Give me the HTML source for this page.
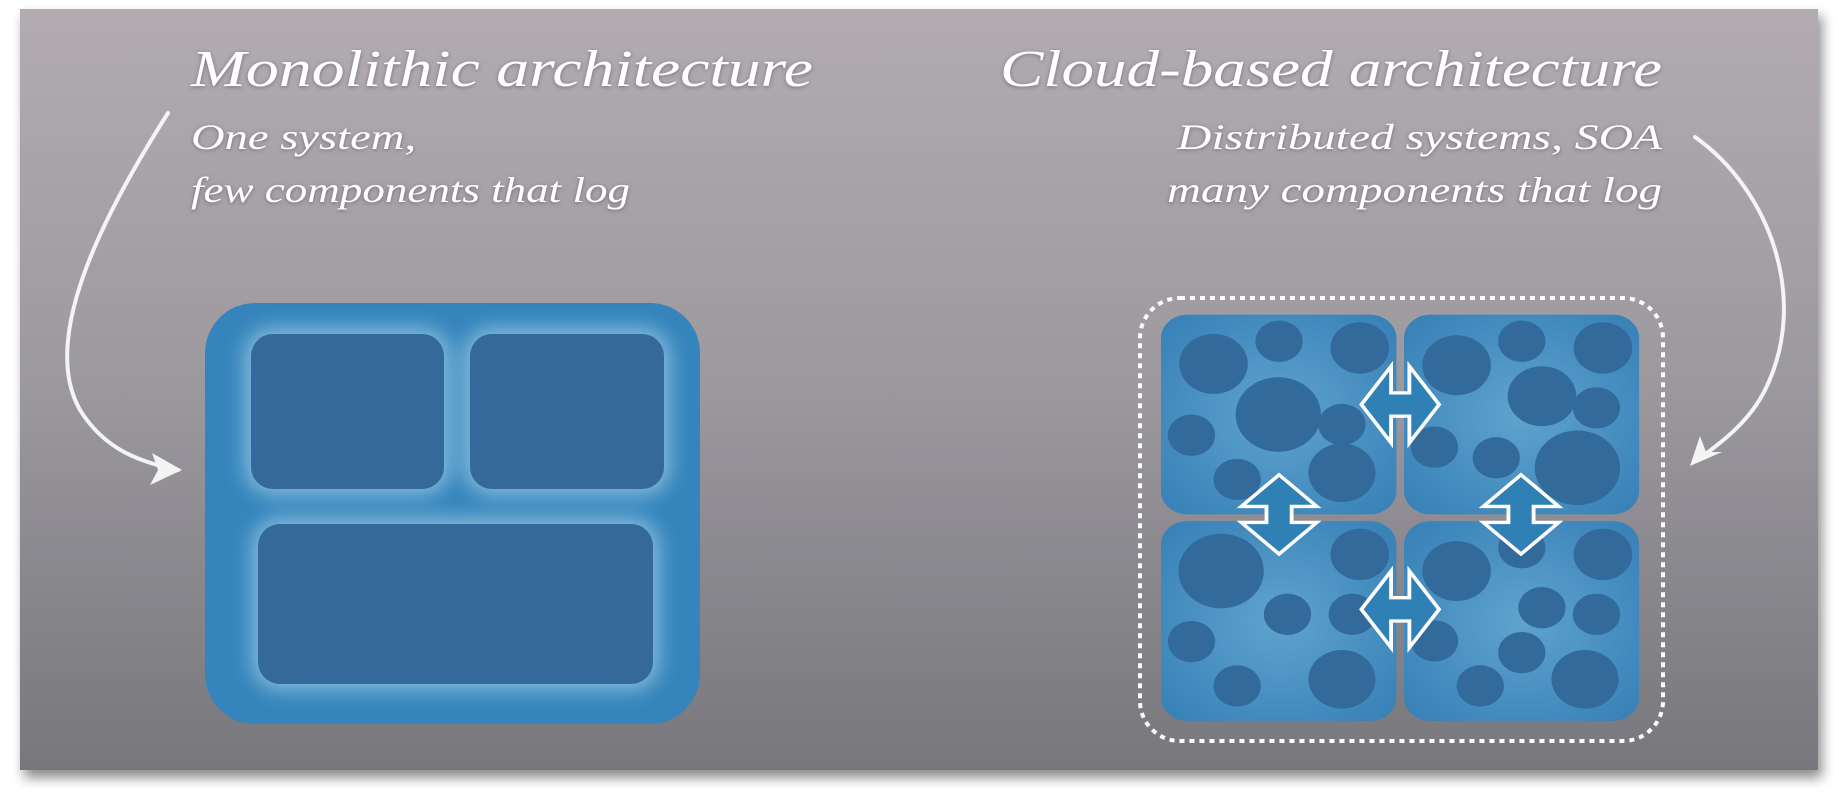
<!DOCTYPE html>
<html><head><meta charset="utf-8"><style>
html,body{margin:0;padding:0;background:#fff;width:1839px;height:801px;overflow:hidden}
svg{display:block}
text{font-family:"Liberation Serif",serif;font-style:italic;fill:#fff}
</style></head><body>
<svg width="1839" height="801" viewBox="0 0 1839 801" xmlns="http://www.w3.org/2000/svg">
<defs>
<linearGradient id="bg" x1="0" y1="0" x2="0" y2="1">
<stop offset="0" stop-color="#b2acb2"/><stop offset="0.5" stop-color="#9b989e"/><stop offset="1" stop-color="#77777c"/>
</linearGradient>
<filter id="sh" x="-5%" y="-5%" width="110%" height="115%"><feGaussianBlur stdDeviation="6"/></filter>
<filter id="bl" x="-20%" y="-20%" width="140%" height="140%"><feGaussianBlur stdDeviation="10"/></filter>
<filter id="ts"><feDropShadow dx="0" dy="1" stdDeviation="2" flood-color="#000" flood-opacity="0.35"/></filter>
<radialGradient id="q" cx="0.5" cy="0.5" r="0.7"><stop offset="0" stop-color="#5fa3cf"/><stop offset="1" stop-color="#3680b6"/></radialGradient>
</defs>
<rect x="24" y="16" width="1798" height="762" fill="#000" opacity="0.45" filter="url(#sh)"/>
<rect x="20" y="9" width="1798" height="761" fill="url(#bg)"/>

<g filter="url(#ts)">
<text x="191" y="86" font-size="52" textLength="622" lengthAdjust="spacingAndGlyphs">Monolithic architecture</text>
<text x="191" y="149" font-size="36" textLength="225" lengthAdjust="spacingAndGlyphs">One system,</text>
<text x="191" y="202" font-size="36" textLength="439" lengthAdjust="spacingAndGlyphs">few components that log</text>
<text x="1000" y="86" font-size="52" textLength="662" lengthAdjust="spacingAndGlyphs">Cloud-based architecture</text>
<text x="1177" y="149" font-size="36" textLength="485" lengthAdjust="spacingAndGlyphs">Distributed systems, SOA</text>
<text x="1167" y="202" font-size="36" textLength="495" lengthAdjust="spacingAndGlyphs">many components that log</text>
</g>

<!-- curved arrows -->
<g fill="none" stroke="#f4f4f4" stroke-width="4" stroke-linecap="round">
<path d="M168,113 C100,220 40,340 80,410 C105,450 140,462 178,470"/>
<path d="M1695,137 C1770,190 1810,300 1765,390 C1750,420 1725,440 1700,458"/>
</g>
<path d="M182,470 L152,453 L158,470 L150,485 Z" fill="#f4f4f4"/>
<path d="M1690,466 L1700,436 L1706,452 L1722,452 Z" fill="#f4f4f4"/>

<!-- monolithic -->
<rect x="205" y="303" width="495" height="421" rx="50" fill="#3584bb"/>
<g filter="url(#bl)" fill="#8ec2e2" opacity="0.9">
<rect x="245" y="328" width="205" height="167" rx="28"/>
<rect x="464" y="328" width="206" height="167" rx="28"/>
<rect x="252" y="518" width="407" height="172" rx="28"/>
</g>
<g fill="#35699b">
<rect x="251" y="334" width="193" height="155" rx="22"/>
<rect x="470" y="334" width="194" height="155" rx="22"/>
<rect x="258" y="524" width="395" height="160" rx="22"/>
</g>

<!-- cloud -->
<rect x="1140" y="298" width="523" height="443" rx="40" fill="none" stroke="#fff" stroke-width="4" stroke-dasharray="5 5"/>
<g transform="translate(1100,278) scale(0.381,0.333)">
<rect x="160" y="110" width="618" height="600" rx="70" fill="url(#q)"/>
<rect x="798" y="110" width="617" height="600" rx="70" fill="url(#q)"/>
<rect x="160" y="730" width="618" height="600" rx="70" fill="url(#q)"/>
<rect x="798" y="730" width="617" height="600" rx="70" fill="url(#q)"/>
<g fill="#336a9c">
<circle cx="298" cy="258" r="90"/><circle cx="470" cy="190" r="62"/><circle cx="682" cy="210" r="77"/><circle cx="468" cy="410" r="112"/><circle cx="240" cy="472" r="62"/><circle cx="635" cy="440" r="62"/><circle cx="635" cy="585" r="88"/><circle cx="360" cy="605" r="62"/>
<circle cx="936" cy="262" r="90"/><circle cx="1107" cy="190" r="62"/><circle cx="1320" cy="210" r="77"/><circle cx="1160" cy="355" r="90"/><circle cx="1303" cy="390" r="62"/><circle cx="878" cy="508" r="62"/><circle cx="1040" cy="540" r="62"/><circle cx="1253" cy="570" r="112"/>
<circle cx="318" cy="880" r="112"/><circle cx="682" cy="830" r="77"/><circle cx="492" cy="1010" r="62"/><circle cx="662" cy="1010" r="62"/><circle cx="240" cy="1092" r="62"/><circle cx="635" cy="1205" r="88"/><circle cx="360" cy="1225" r="62"/>
<circle cx="936" cy="880" r="90"/><circle cx="1107" cy="810" r="62"/><circle cx="1320" cy="830" r="77"/><circle cx="1160" cy="990" r="62"/><circle cx="1303" cy="1010" r="62"/><circle cx="878" cy="1090" r="62"/><circle cx="1107" cy="1125" r="62"/><circle cx="998" cy="1225" r="62"/><circle cx="1273" cy="1205" r="88"/>
</g>
<g fill="#2f80b4" stroke="#fff" stroke-width="10" stroke-linejoin="miter">
<path transform="translate(788,380)" d="M-102,0 L-24,-115 L-24,-35 L24,-35 L24,-115 L102,0 L24,115 L24,35 L-24,35 L-24,115 Z"/>
<path transform="translate(788,995)" d="M-102,0 L-24,-115 L-24,-35 L24,-35 L24,-115 L102,0 L24,115 L24,35 L-24,35 L-24,115 Z"/>
<path transform="translate(470,710)" d="M0,-119 L99,-24 L33,-24 L33,24 L99,24 L0,119 L-99,24 L-33,24 L-33,-24 L-99,-24 Z"/>
<path transform="translate(1105,710)" d="M0,-119 L99,-24 L33,-24 L33,24 L99,24 L0,119 L-99,24 L-33,24 L-33,-24 L-99,-24 Z"/>
</g>
</g>
</svg>
</body></html>
